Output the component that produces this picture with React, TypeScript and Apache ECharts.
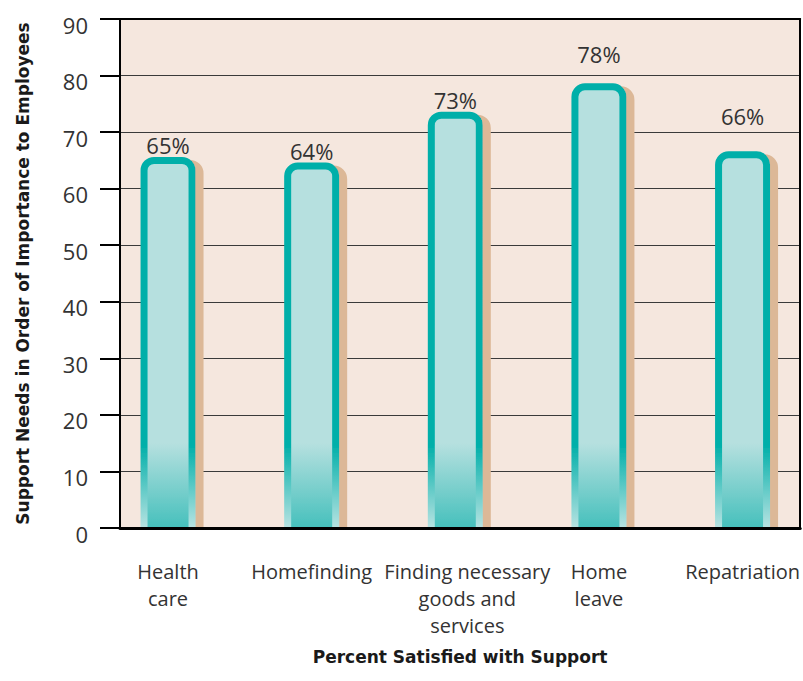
import React, { useEffect, useRef } from "react";
import * as echarts from "echarts";

const categories = [
  "Health\ncare",
  "Homefinding",
  "Finding necessary\ngoods and\nservices",
  "Home\nleave",
  "Repatriation",
];
const satisfiedPct = [65, 64, 73, 78, 66];
const yMin = 0;
const yMax = 90;
const yStep = 10;
const xTitle = "Percent Satisfied with Support";
const yTitle = "Support Needs in Order of Importance to Employees";

export default function App() {
  const ref = useRef<HTMLDivElement>(null);

  useEffect(() => {
    document.body.style.margin = "0";
    const chart = echarts.init(ref.current!, null, { renderer: "svg" });
    const positions = categories.map((_, i) => i);
    const xMin = -0.3345;
    const xMax = 4.401;
    const barW = 48;
    const stroke = 7;
    // extra lift (px) of value labels, as placed in the original layout
    const labelLift = [0, 0, 0, 17, 23];

    const renderBar = (params: any, api: any) => {
      const x = api.value(0);
      const v = api.value(1);
      const top = api.coord([x, v]);
      const base = api.coord([x, 0]);
      const fadeStart = api.coord([x, 15]);
      const fill = new echarts.graphic.LinearGradient(
        0, fadeStart[1], 0, base[1],
        [
          { offset: 0, color: "#b6e0df" },
          { offset: 1, color: "#45c0bc" },
        ],
        true
      );
      const border = new echarts.graphic.LinearGradient(
        0, fadeStart[1] + 2, 0, base[1],
        [
          { offset: 0, color: "#00afa9" },
          { offset: 1, color: "#b8e3e2" },
        ],
        true
      );
      const lift = labelLift[params.dataIndex] || 0;
      return {
        type: "group",
        children: [
          {
            type: "rect",
            shape: {
              x: top[0] - barW / 2,
              y: top[1],
              width: barW,
              height: base[1] - top[1] + 12,
              r: [10, 10, 0, 0],
            },
            style: {
              fill,
              stroke: border,
              lineWidth: stroke,
              shadowColor: "#dcb897",
              shadowOffsetX: 8,
              shadowOffsetY: 3,
              shadowBlur: 0,
            },
          },
          {
            type: "text",
            style: {
              text: `${v}%`,
              x: top[0],
              y: top[1] - stroke / 2 - 1 - lift,
              align: "center",
              verticalAlign: "bottom",
              fontFamily: "Open Sans",
              fontSize: 22,
              fill: "#333",
            },
          },
        ],
      };
    };

    chart.setOption({
      animation: false,
      grid: {
        left: 120,
        right: 2,
        top: 19,
        bottom: 153,
        show: true,
        backgroundColor: "#f5e7de",
        borderWidth: 0,
      },
      xAxis: [
        {
          type: "value",
          min: xMin,
          max: xMax,
          position: "bottom",
          z: 10,
          axisLine: { show: true, onZero: false, lineStyle: { color: "#000", width: 3 } },
          axisTick: { show: false },
          splitLine: { show: false },
          axisLabel: {
            customValues: positions,
            formatter: (v: number) => {
              const i = Math.round(v);
              const lines = (categories[i] ?? "").split("\n");
              const style = i === 2 ? "s" : "n";
              return lines.map((l) => `{${style}|${l}}`).join("\n");
            },
            fontFamily: "Open Sans",
            fontSize: 20,
            color: "#333",
            lineHeight: 27,
            margin: 30,
            rich: {
              n: { fontFamily: "Open Sans", fontSize: 20, color: "#333", lineHeight: 27 },
              s: {
                fontFamily: "Open Sans",
                fontSize: 20,
                color: "#333",
                lineHeight: 27,
                padding: [0, 0, 0, 24],
              },
            },
          },
          name: xTitle,
          nameLocation: "middle",
          nameGap: 120,
          nameTextStyle: {
            fontFamily: "DejaVu Sans",
            fontWeight: "bold",
            fontSize: 17,
            color: "#1a1a1a",
          },
        },
        {
          type: "value",
          min: xMin,
          max: xMax,
          position: "top",
          axisLine: { show: true, onZero: false, lineStyle: { color: "#000", width: 2 } },
          axisTick: { show: false },
          axisLabel: { show: false },
          splitLine: { show: false },
        },
      ],
      yAxis: [
        {
          type: "value",
          min: yMin,
          max: yMax,
          interval: yStep,
          position: "left",
          axisLine: { show: true, onZero: false, lineStyle: { color: "#000", width: 2 } },
          axisTick: { show: true, length: 20, lineStyle: { color: "#000", width: 2 } },
          axisLabel: {
            fontFamily: "Open Sans",
            fontSize: 22,
            color: "#333",
            margin: 32,
            verticalAlign: "top",
            lineHeight: 11,
          },
          splitLine: { show: true, lineStyle: { color: "#3a3a3a", width: 1 } },
          name: yTitle,
          nameLocation: "middle",
          nameGap: 89,
          nameTextStyle: {
            fontFamily: "DejaVu Sans",
            fontWeight: "bold",
            fontSize: 17,
            color: "#1a1a1a",
          },
        },
        {
          type: "value",
          min: yMin,
          max: yMax,
          interval: yStep,
          position: "right",
          axisLine: { show: true, onZero: false, lineStyle: { color: "#000", width: 2 } },
          axisTick: { show: false },
          axisLabel: { show: false },
          splitLine: { show: false },
        },
      ],
      series: [
        {
          type: "custom",
          xAxisIndex: 0,
          yAxisIndex: 0,
          clip: true,
          renderItem: renderBar,
          encode: { x: 0, y: 1 },
          data: satisfiedPct.map((v, i) => [positions[i], v]),
        },
      ],
    });

    return () => chart.dispose();
  }, []);

  return (
    <div
      ref={ref}
      style={{ position: "absolute", left: 0, top: 0, width: 803, height: 681 }}
    />
  );
}
